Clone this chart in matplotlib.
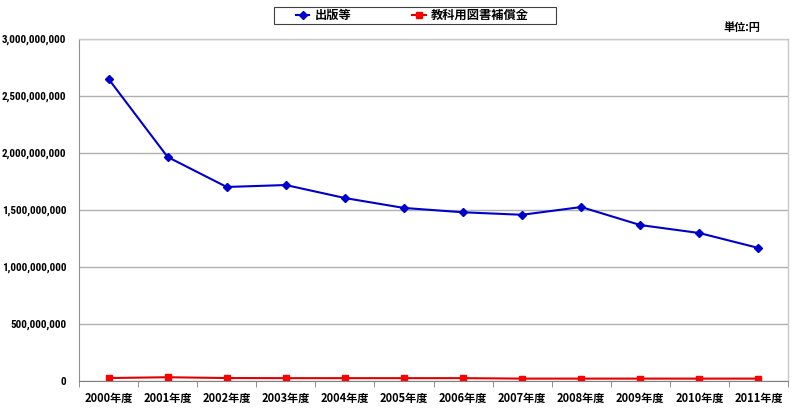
import matplotlib
matplotlib.use("Agg")
import matplotlib.pyplot as plt
from matplotlib.ticker import FuncFormatter, MultipleLocator, FixedLocator
from matplotlib.patches import Rectangle
from matplotlib import font_manager

plt.rcParams['font.family'] = ['Noto Sans CJK JP', 'DejaVu Sans']

categories = ['2000年度', '2001年度', '2002年度', '2003年度', '2004年度', '2005年度',
              '2006年度', '2007年度', '2008年度', '2009年度', '2010年度', '2011年度']
publishing = [2650000000, 1965000000, 1702000000, 1719000000, 1605000000, 1518000000,
              1480000000, 1458000000, 1526000000, 1368000000, 1298000000, 1167000000]
textbook = [26000000, 33000000, 26000000, 25000000, 25000000, 25000000,
            25000000, 21000000, 21000000, 21000000, 21000000, 21000000]
series_names = ['出版等', '教科用図書補償金']

names = {f.name for f in font_manager.fontManager.ttflist}
narrow, nsize = 'Roboto', 7.5
for cand in ['DejaVu Sans Condensed', 'Liberation Sans Narrow', 'Roboto Condensed']:
    if cand in names:
        narrow, nsize = cand, 8
        break

fig = plt.figure(figsize=(8, 4.11), dpi=100)
ax = fig.add_axes([79/800, 1-381/411, (788-79)/800, (381-39)/411])

x = list(range(len(categories)))
l1, = ax.plot(x, publishing, color='#0000CC', lw=1.5, marker='D', ms=4,
              markerfacecolor='#0000CC', markeredgecolor='#0000CC', label=series_names[0])
l2, = ax.plot(x, textbook, color='#E00000', lw=1.5, marker='s', ms=5,
              markerfacecolor='#FF0000', markeredgecolor='#FF0000', label=series_names[1])

ax.set_xlim(-0.5, len(categories)-0.5)
ax.set_ylim(0, 3000000000)
ax.yaxis.set_major_locator(MultipleLocator(500000000))
ax.yaxis.set_major_formatter(FuncFormatter(lambda v, p: f'{int(v):,}'))
ax.grid(axis='y', color='#B0B0B0', lw=1)
ax.set_axisbelow(True)

ax.set_xticks(x)
ax.set_xticklabels(categories, fontsize=8, fontweight='bold')
ax.tick_params(axis='x', which='major', length=0, pad=8)
ax.xaxis.set_minor_locator(FixedLocator([i - 0.5 for i in range(len(categories)+1)]))
ax.tick_params(axis='x', which='minor', length=4, color='#808080', direction='out')
ax.tick_params(axis='y', length=0, pad=9)
for lab in ax.get_yticklabels():
    lab.set_fontweight('bold')
    lab.set_family([narrow, 'DejaVu Sans'])
    lab.set_fontsize(nsize)

for s in ['top', 'right']:
    ax.spines[s].set_color('#C8C8C8')
    ax.spines[s].set_linewidth(1)
ax.spines['left'].set_color('#909090')
ax.spines['bottom'].set_color('#808080')

# legend box
fig.patches.append(Rectangle((274/800, 1-24/411), (556-274)/800, 17/411,
                             transform=fig.transFigure, fill=False,
                             edgecolor='#404040', lw=0.8))
leg = fig.legend(handles=[l1, l2], loc='center left', bbox_to_anchor=(296/800, 1-15.5/411),
                 ncol=2, frameon=False,
                 prop={'size': 8.8, 'weight': 'bold'}, handlelength=1.1,
                 columnspacing=5.0, borderpad=0, handletextpad=0.4, borderaxespad=0)
for h in leg.legend_handles:
    h.set_markersize(4)

fig.text(742/800, 1-27/411, '単位:円', fontsize=8, fontweight='bold', ha='center', va='center')

fig.savefig('out.png', dpi=100)
